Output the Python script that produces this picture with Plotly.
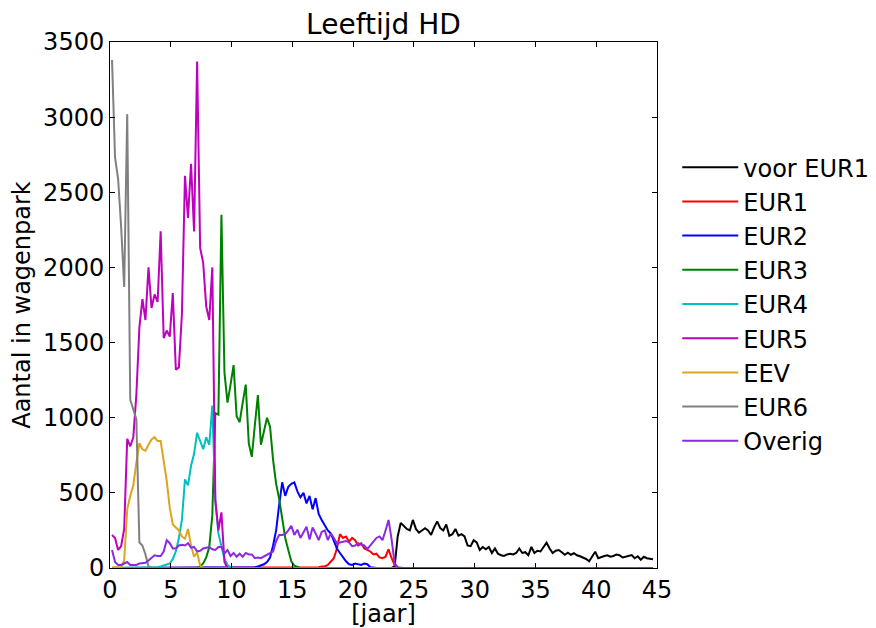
import plotly.graph_objects as go

N_POINTS = 179
AGE_START = 1 / 6
AGE_STEP = 0.25

NAMES = ["voor EUR1", "EUR1", "EUR2", "EUR3", "EUR4", "EUR5", "EEV", "EUR6", "Overig"]
COLORS = ["#000000", "#ff0000", "#0000ff", "#008000", "#00bfbf", "#bf00bf", "#daa520", "#808080", "#8a2be2"]

# each series: start index on the quarter-year grid, then the values
# (values outside the listed span read as 0)
VOOR_EUR1_START = 93
VOOR_EUR1 = [10, 210, 300, 280, 260, 250, 320, 260, 235, 250,
             265, 250, 220, 270, 310, 265, 250, 290, 215, 225,
             260, 215, 225, 210, 150, 145, 185, 170, 120, 140,
             125, 140, 100, 130, 95, 85, 80, 90, 95, 90,
             100, 130, 100, 105, 85, 140, 100, 115, 110, 140,
             168, 130, 100, 115, 120, 105, 88, 102, 88, 98,
             85, 78, 70, 60, 45, 80, 108, 65, 75, 80,
             85, 75, 80, 90, 85, 70, 75, 80, 86, 65,
             78, 55, 75, 65, 60, 58]

EUR1_START = 68
EUR1 = [5, 10, 10, 20, 40, 65, 130, 225, 200, 210,
        175, 200, 185, 150, 165, 130, 120, 110, 90, 95,
        70, 65, 75, 125, 65, 20]

EUR2_START = 47
EUR2 = [5, 10, 15, 25, 40, 70, 150, 250, 420, 570,
        480, 540, 560, 570, 510, 470, 500, 430, 480, 390,
        465, 360, 320, 280, 250, 230, 180, 130, 100, 70,
        45, 25, 20, 30, 25, 20, 30, 25, 5]

EUR3_START = 29
EUR3 = [10, 30, 70, 140, 350, 1030, 1020, 2350, 1300, 1100,
        1220, 1350, 1010, 970, 1100, 1220, 830, 740, 950, 1150,
        820, 900, 1000, 940, 720, 560, 460, 330, 200, 120,
        45, 15, 5]

EUR4_START = 13
EUR4 = [0, 2, 5, 10, 15, 20, 30, 60, 110, 200,
        320, 590, 550, 680, 760, 900, 840, 790, 870, 820,
        1080, 450, 230, 150, 60, 20, 5]

EUR5_START = 0
EUR5 = [220, 200, 120, 145, 260, 860, 810, 870, 1150, 1600,
        1790, 1650, 2000, 1730, 1820, 1770, 2240, 1530, 1580, 1540,
        1830, 1320, 1335, 1690, 2610, 2330, 2690, 2240, 3370, 2130,
        2030, 1740, 1650, 2000, 450, 250, 370, 40]

EEV_START = 0
EEV = [5, 5, 5, 5, 50, 390, 480, 550, 700, 830,
       790, 780, 820, 855, 870, 845, 845, 720, 580, 400,
       290, 270, 250, 210, 195, 260, 150, 75, 105, 15]

EUR6_START = 0
EUR6 = [3380, 2730, 2590, 2270, 1870, 3020, 1120, 1050, 990, 170,
        150, 90, 10]

OVERIG_START = 0
OVERIG = [120, 40, 20, 20, 30, 40, 20, 20, 20, 30,
          30, 35, 50, 70, 85, 80, 80, 110, 185, 165,
          130, 130, 150, 155, 150, 165, 135, 140, 110, 115,
          130, 135, 140, 125, 120, 140, 140, 95, 120, 80,
          100, 75, 95, 75, 100, 90, 90, 65, 70, 65,
          75, 85, 100, 110, 180, 220, 220, 225, 250, 280,
          220, 255, 200, 235, 275, 190, 270, 230, 186, 240,
          250, 186, 230, 200, 164, 170, 175, 180, 170, 145,
          150, 165, 155, 150, 125, 150, 180, 200, 210, 185,
          250, 320, 190, 30, 5]

X_TICKS = [0, 5, 10, 15, 20, 25, 30, 35, 40, 45]
Y_TICKS = [0, 500, 1000, 1500, 2000, 2500, 3000, 3500]

SERIES = [
    (VOOR_EUR1_START, VOOR_EUR1),
    (EUR1_START, EUR1),
    (EUR2_START, EUR2),
    (EUR3_START, EUR3),
    (EUR4_START, EUR4),
    (EUR5_START, EUR5),
    (EEV_START, EEV),
    (EUR6_START, EUR6),
    (OVERIG_START, OVERIG),
]

ages = [AGE_START + AGE_STEP * i for i in range(N_POINTS)]


def full_series(start, vals):
    out = [0] * N_POINTS
    for k, v in enumerate(vals):
        out[start + k] = v
    return out


fig = go.Figure()
for name, color, (start, vals) in zip(NAMES, COLORS, SERIES):
    fig.add_trace(go.Scatter(
        x=ages, y=full_series(start, vals), mode="lines", name=name,
        line=dict(color=color, width=2), legendgroup=name,
    ))

axis_common = dict(
    showline=True, linecolor="black", linewidth=1, mirror="allticks",
    ticks="inside", ticklen=5, tickcolor="black", tickwidth=1,
    showgrid=False, zeroline=False, automargin=False,
    tickfont=dict(size=24, color="black"),
)

# the page places the figure 8px from the window's top-left corner
W, H = 868, 620

fig.update_layout(
    width=W, height=H,
    margin=dict(l=102, r=219, t=34, b=60, autoexpand=False),
    paper_bgcolor="white", plot_bgcolor="white",
    font=dict(family="DejaVu Sans", size=24, color="black"),
    title=dict(text="Leeftijd HD", x=375.5 / W, xanchor="center",
               y=1 - 16 / H, yanchor="middle", yref="container",
               font=dict(size=28, color="black")),
    xaxis=dict(range=[0, 45], tickvals=X_TICKS, title=dict(text="[jaar]", standoff=8,
               font=dict(size=24)), **axis_common),
    yaxis=dict(range=[0, 3500], tickvals=Y_TICKS, title=dict(text="Aantal in wagenpark", standoff=12,
               font=dict(size=24)), **axis_common),
    legend=dict(x=1.037, xanchor="left", y=0.804, yanchor="top",
                font=dict(size=24, color="black"), bgcolor="rgba(0,0,0,0)",
                traceorder="normal", tracegroupgap=11, borderwidth=0, itemwidth=56),
    showlegend=True,
)

fig.write_html("out.html")
